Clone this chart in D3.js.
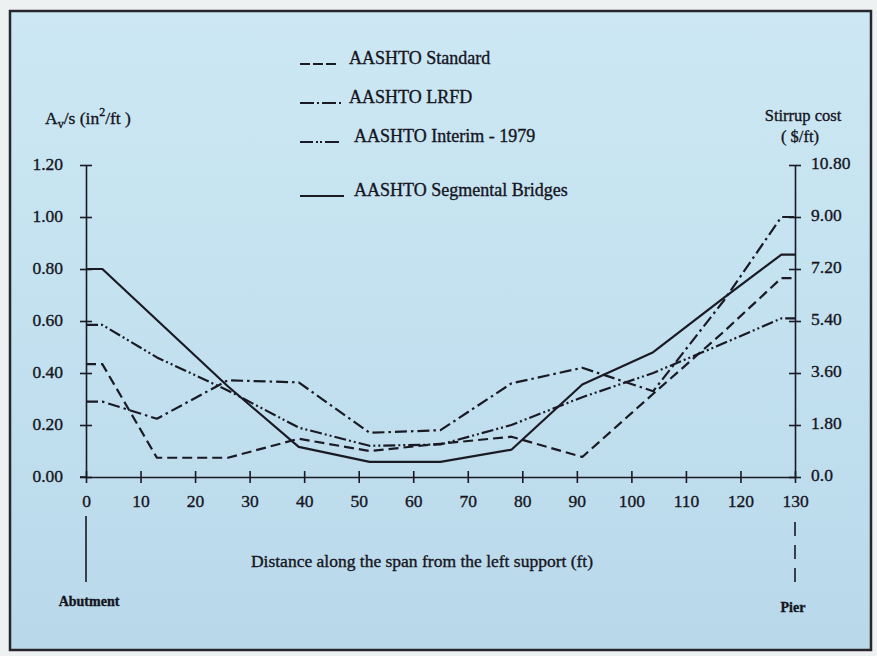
<!DOCTYPE html>
<html>
<head>
<meta charset="utf-8">
<script src="https://cdn.jsdelivr.net/npm/d3@7"></script>
<style>
body { margin: 0; background: #eef1f2; }
text { font-family: "Liberation Serif", "Times New Roman", serif; fill: #15151d; stroke: #15151d; stroke-width: 0.35px; }
</style>
</head>
<body>
<svg id="chart" width="877" height="656"></svg>
<script>
// distance along the span (ft) where each curve has a vertex
var distance = [0, 3, 13, 26, 39, 52, 65, 78, 91, 104, 117, 127.5, 130];

// Av/s (in2/ft)
var aashtoStandard  = [0.434, 0.434, 0.074, 0.074, 0.147, 0.100, 0.128, 0.155, 0.077, 0.320, 0.560, 0.765, 0.765];
var aashtoLrfd      = [0.290, 0.290, 0.224, 0.372, 0.364, 0.170, 0.180, 0.360, 0.420, 0.330, 0.680, 1.000, 1.000];
var aashtoInterim   = [0.585, 0.585, 0.460, 0.333, 0.190, 0.120, 0.125, 0.200, 0.307, 0.400, 0.515, 0.610, 0.610];
var aashtoSegmental = [0.800, 0.800, 0.604, 0.349, 0.116, 0.058, 0.058, 0.105, 0.356, 0.480, 0.690, 0.855, 0.855];

var seriesNames = ["AASHTO Standard", "AASHTO LRFD", "AASHTO Interim - 1979", "AASHTO Segmental Bridges"];

var xTicks = [0, 10, 20, 30, 40, 50, 60, 70, 80, 90, 100, 110, 120, 130];
var avTicks = [0, 0.2, 0.4, 0.6, 0.8, 1.0, 1.2];
var avLabels = ["0.00", "0.20", "0.40", "0.60", "0.80", "1.00", "1.20"];
var costTicks = [0, 1.8, 3.6, 5.4, 7.2, 9.0, 10.8];
var costLabels = ["0.0", "1.80", "3.60", "5.40", "7.20", "9.00", "10.80"];

var ink = "#1a1a24";
var dashes = ["10,5", "12,4,2.5,4", "12,3,2,3,2,3", null];

var svg = d3.select("#chart");

// background + frame
var defs = svg.append("defs");
var grad = defs.append("linearGradient").attr("id", "bg")
    .attr("x1", 0).attr("y1", 0).attr("x2", 0).attr("y2", 1);
grad.append("stop").attr("offset", "0%").attr("stop-color", "#cde8f4");
grad.append("stop").attr("offset", "55%").attr("stop-color", "#c2e0ef");
grad.append("stop").attr("offset", "100%").attr("stop-color", "#b9d8ea");

svg.append("rect")
    .attr("x", 10).attr("y", 11)
    .attr("width", 861).attr("height", 639)
    .attr("fill", "url(#bg)")
    .attr("stroke", "#26262c")
    .attr("stroke-width", 2.5);

var x = d3.scaleLinear().domain([0, 130]).range([86, 795]);
var y = d3.scaleLinear().domain([0, 1.2]).range([477, 165]);
var yCost = d3.scaleLinear().domain([0, 10.8]).range([477, 165]);

// axes
function styleAxis(g) {
    g.attr("font-family", null).attr("font-size", null);
    g.selectAll("path, line").attr("stroke", ink).attr("stroke-width", 1.6);
    g.selectAll("text").style("font-size", "17.5px").attr("fill", null);
}

var leftAxis = svg.append("g")
    .attr("transform", "translate(" + x(0) + ",0)")
    .call(d3.axisLeft(y).tickValues(avTicks)
        .tickFormat(function (d, i) { return avLabels[i]; })
        .tickSize(6).tickSizeOuter(0).tickPadding(17))
    .call(styleAxis);
leftAxis.selectAll(".tick line").attr("x1", 6);
leftAxis.selectAll(".tick text").attr("dy", "0.25em");

var rightAxis = svg.append("g")
    .attr("transform", "translate(" + x(130) + ",0)")
    .call(d3.axisRight(yCost).tickValues(costTicks)
        .tickFormat(function (d, i) { return costLabels[i]; })
        .tickSize(6).tickSizeOuter(0).tickPadding(10))
    .call(styleAxis);
rightAxis.selectAll(".tick line").attr("x1", -6);
rightAxis.selectAll(".tick text").attr("dy", "0.2em");

var bottomAxis = svg.append("g")
    .attr("transform", "translate(0," + y(0) + ")")
    .call(d3.axisBottom(x).tickValues(xTicks)
        .tickSize(6).tickSizeOuter(0).tickPadding(12))
    .call(styleAxis);
bottomAxis.selectAll(".tick line").attr("y1", -6);

// x axis line runs a little past the left axis
svg.append("line")
    .attr("x1", x(0) - 6).attr("x2", x(0))
    .attr("y1", y(0)).attr("y2", y(0))
    .attr("stroke", ink).attr("stroke-width", 1.6);

// support markers below the axis
svg.append("line")
    .attr("x1", x(0)).attr("x2", x(0))
    .attr("y1", 516).attr("y2", 582)
    .attr("stroke", ink).attr("stroke-width", 1.6);
svg.append("line")
    .attr("x1", x(130)).attr("x2", x(130))
    .attr("y1", 522).attr("y2", 584)
    .attr("stroke", ink).attr("stroke-width", 1.6)
    .attr("stroke-dasharray", "14,9");

// the four curves
var allSeries = [aashtoStandard, aashtoLrfd, aashtoInterim, aashtoSegmental];

var line = d3.line()
    .x(function (d) { return x(d[0]); })
    .y(function (d) { return y(d[1]); });

allSeries.forEach(function (vals, i) {
    var pts = distance.map(function (dd, j) { return [dd, vals[j]]; });
    svg.append("path")
        .datum(pts)
        .attr("d", line)
        .attr("fill", "none")
        .attr("stroke", ink)
        .attr("stroke-width", 2.2)
        .attr("stroke-linejoin", "round")
        .attr("stroke-dasharray", dashes[i]);
});

// legend
var legendY = [64, 103, 142, 196];
var legendTextX = [349, 349, 354, 354];
var legendSample = [[300, 337, "10,3"], [300, 344, "14,3,2,3,14,3,2"], [300, 344, "13,3,2,2,2,3,14"], [300, 344, null]];

seriesNames.forEach(function (name, i) {
    svg.append("line")
        .attr("x1", legendSample[i][0]).attr("x2", legendSample[i][1])
        .attr("y1", legendY[i]).attr("y2", legendY[i])
        .attr("stroke", ink).attr("stroke-width", 2)
        .attr("stroke-dasharray", legendSample[i][2]);
    svg.append("text")
        .attr("x", legendTextX[i]).attr("y", legendY[i])
        .style("font-size", "18px")
        .text(name);
});

// axis titles
var avTitle = svg.append("text").attr("x", 45).attr("y", 124).style("font-size", "17.5px");
avTitle.append("tspan").text("A");
avTitle.append("tspan").attr("dy", 4).style("font-size", "12px").text("v");
avTitle.append("tspan").attr("dy", -4).text("/s  (in");
avTitle.append("tspan").attr("dy", -8).style("font-size", "12px").text("2");
avTitle.append("tspan").attr("dy", 8).text("/ft )");

svg.append("text").attr("x", 803).attr("y", 121)
    .attr("text-anchor", "middle").style("font-size", "16.5px")
    .text("Stirrup cost");
svg.append("text").attr("x", 800).attr("y", 142)
    .attr("text-anchor", "middle").style("font-size", "16.5px")
    .text("( $/ft)");

svg.append("text").attr("x", 422).attr("y", 567)
    .attr("text-anchor", "middle").style("font-size", "17.5px")
    .text("Distance along the span from the left support (ft)");

svg.append("text").attr("x", 89).attr("y", 606)
    .attr("text-anchor", "middle").style("font-size", "14px").style("font-weight", "bold")
    .text("Abutment");
svg.append("text").attr("x", 793).attr("y", 612)
    .attr("text-anchor", "middle").style("font-size", "14px").style("font-weight", "bold")
    .text("Pier");
</script>
</body>
</html>
